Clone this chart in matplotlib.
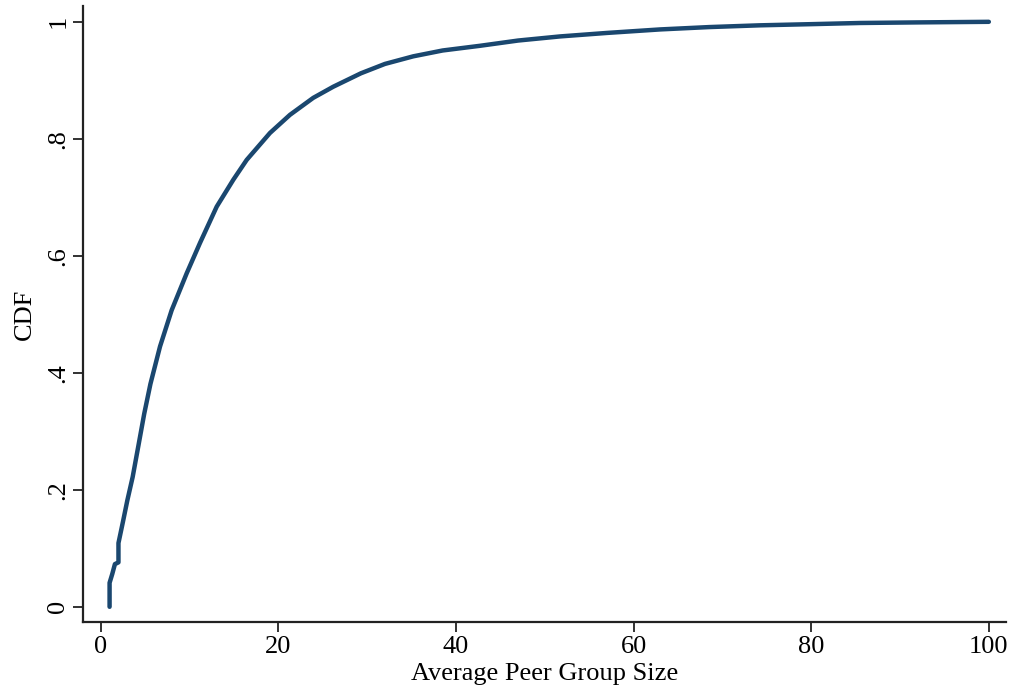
import matplotlib
matplotlib.use("Agg")
import matplotlib.pyplot as plt

peer_size = [1.0, 1.0, 1.3, 1.6, 2.0, 2.0, 2.5, 3.0, 3.6, 4.24, 4.90, 5.60,
             6.68, 7.99, 9.68, 11.18, 13.06, 14.93, 16.44, 19.06, 21.31, 23.93,
             26.18, 29.3, 32.0, 35.19, 38.5, 42.7, 47.0, 51.7, 57.0, 63.0,
             68.5, 74.2, 80.0, 85.5, 92.0, 100.0]
cdf = [0.0, 0.041, 0.056, 0.073, 0.076, 0.109, 0.145, 0.182, 0.222, 0.275,
       0.330, 0.381, 0.445, 0.507, 0.570, 0.622, 0.684, 0.730, 0.764, 0.810,
       0.841, 0.870, 0.889, 0.912, 0.928, 0.941, 0.951, 0.959, 0.968, 0.975,
       0.981, 0.987, 0.991, 0.994, 0.996, 0.998, 0.999, 1.0]

x_ticks = [0, 20, 40, 60, 80, 100]
y_ticks = [0, 0.2, 0.4, 0.6, 0.8, 1.0]
y_tick_labels = ["0", ".2", ".4", ".6", ".8", "1"]

plt.rcParams['font.family'] = ['Liberation Serif', 'DejaVu Serif']

fig = plt.figure(figsize=(10.17, 7.0), dpi=100)
ax = fig.add_axes([0.0819, 0.1114, 0.9070, 0.8800])

ax.plot(peer_size, cdf, color="#1a476f", lw=3.2, solid_capstyle="round",
        solid_joinstyle="round")

ax.set_xlim(-1.96, 101.9)
ax.set_ylim(-0.026, 1.027)
ax.set_xticks(x_ticks)
ax.set_xticklabels([str(t) for t in x_ticks])
ax.set_yticks(y_ticks)
ax.set_yticklabels(y_tick_labels, rotation=90, va="center")

for s in ["top", "right"]:
    ax.spines[s].set_visible(False)
for s in ["left", "bottom"]:
    ax.spines[s].set_linewidth(1.6)
    ax.spines[s].set_color("#222222")

ax.tick_params(axis="both", length=7, width=1.3, color="#222222",
               labelsize=19, pad=3)
ax.set_xlabel("Average Peer Group Size", fontsize=19, labelpad=4)
ax.set_ylabel("CDF", fontsize=19, labelpad=8)

fig.savefig("out.png", dpi=100)
